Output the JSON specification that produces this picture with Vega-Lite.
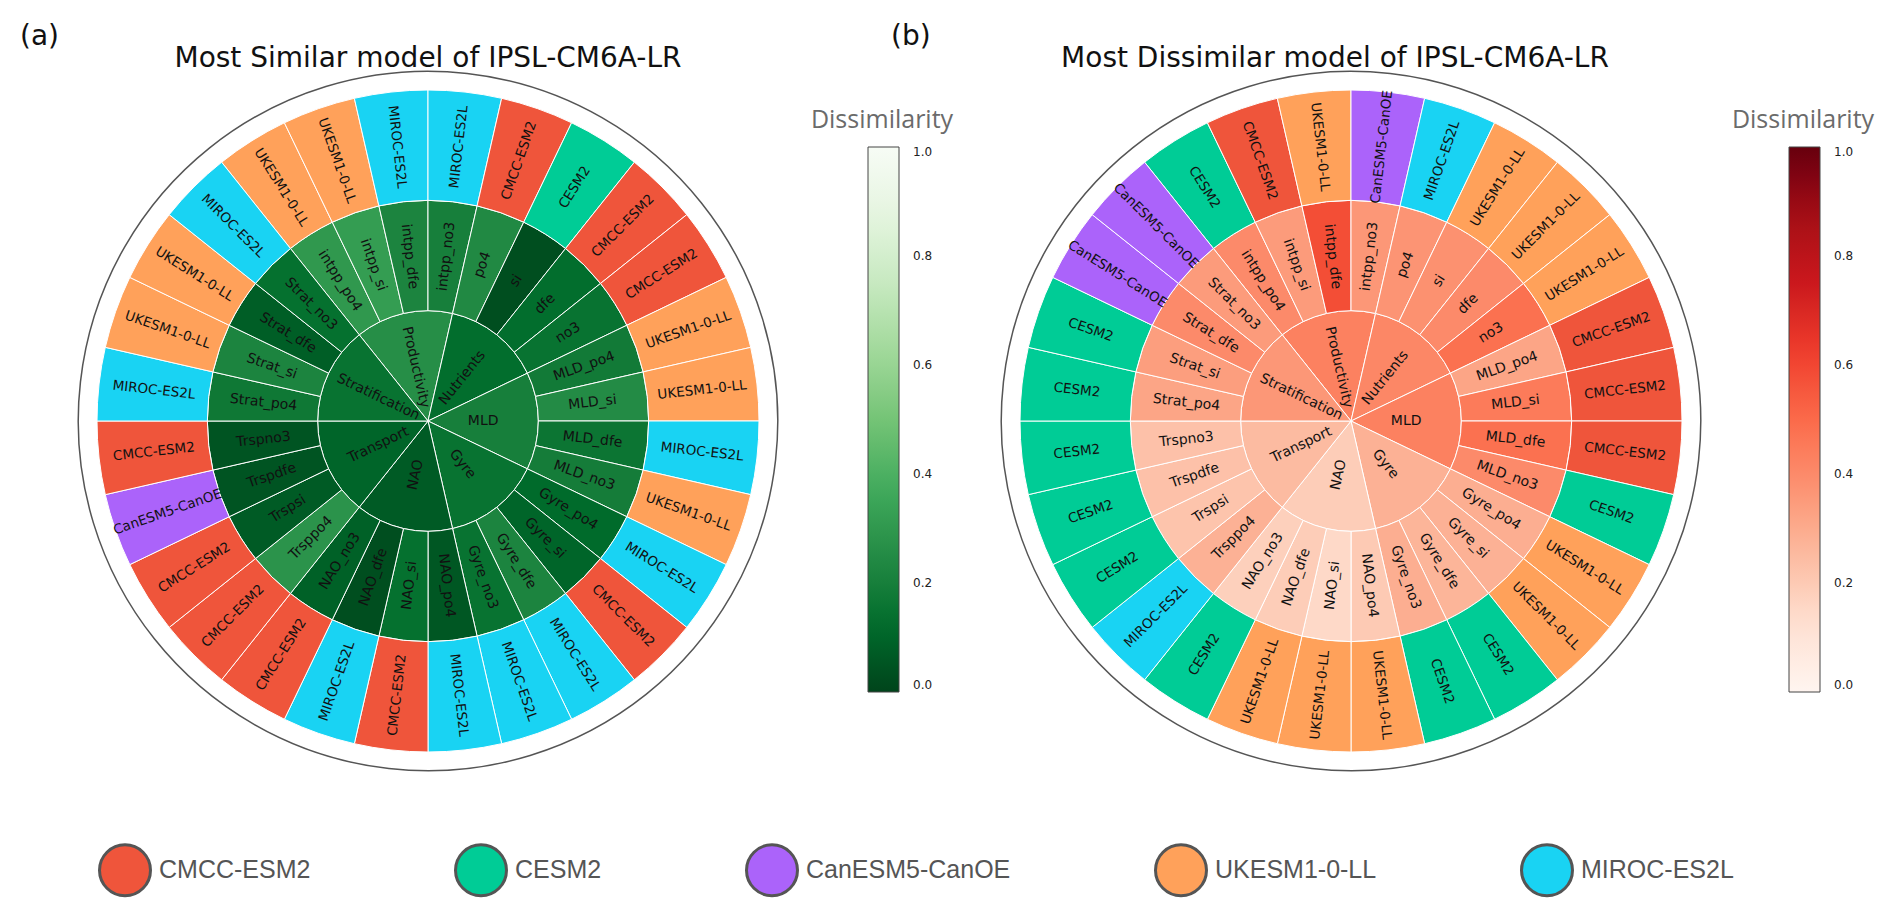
{
"$schema":"https://vega.github.io/schema/vega-lite/v6.json",
"background":"white",
"padding":{"left":20,"top":23,"right":5,"bottom":5},
"config":{"view":{"stroke":null},"font":"DejaVu Sans","title":{"font":"DejaVu Sans","fontWeight":"normal","color":"#111111"}},
"datasets":{
"sim":[
{"i":0,"var":"intpp_po4","cat":"Productivity","model":"UKESM1-0-LL","value":0.30},
{"i":1,"var":"intpp_si","cat":"Productivity","model":"UKESM1-0-LL","value":0.32},
{"i":2,"var":"intpp_dfe","cat":"Productivity","model":"MIROC-ES2L","value":0.22},
{"i":3,"var":"intpp_no3","cat":"Productivity","model":"MIROC-ES2L","value":0.20},
{"i":4,"var":"po4","cat":"Nutrients","model":"CMCC-ESM2","value":0.24},
{"i":5,"var":"si","cat":"Nutrients","model":"CESM2","value":0.03},
{"i":6,"var":"dfe","cat":"Nutrients","model":"CMCC-ESM2","value":0.13},
{"i":7,"var":"no3","cat":"Nutrients","model":"CMCC-ESM2","value":0.15},
{"i":8,"var":"MLD_po4","cat":"MLD","model":"UKESM1-0-LL","value":0.18},
{"i":9,"var":"MLD_si","cat":"MLD","model":"UKESM1-0-LL","value":0.25},
{"i":10,"var":"MLD_dfe","cat":"MLD","model":"MIROC-ES2L","value":0.16},
{"i":11,"var":"MLD_no3","cat":"MLD","model":"UKESM1-0-LL","value":0.19},
{"i":12,"var":"Gyre_po4","cat":"Gyre","model":"MIROC-ES2L","value":0.12},
{"i":13,"var":"Gyre_si","cat":"Gyre","model":"CMCC-ESM2","value":0.10},
{"i":14,"var":"Gyre_dfe","cat":"Gyre","model":"MIROC-ES2L","value":0.22},
{"i":15,"var":"Gyre_no3","cat":"Gyre","model":"MIROC-ES2L","value":0.15},
{"i":16,"var":"NAO_po4","cat":"NAO","model":"MIROC-ES2L","value":0.06},
{"i":17,"var":"NAO_si","cat":"NAO","model":"CMCC-ESM2","value":0.14},
{"i":18,"var":"NAO_dfe","cat":"NAO","model":"MIROC-ES2L","value":0.03},
{"i":19,"var":"NAO_no3","cat":"NAO","model":"CMCC-ESM2","value":0.09},
{"i":20,"var":"Trsppo4","cat":"Transport","model":"CMCC-ESM2","value":0.28},
{"i":21,"var":"Trspsi","cat":"Transport","model":"CMCC-ESM2","value":0.07},
{"i":22,"var":"Trspdfe","cat":"Transport","model":"CanESM5-CanOE","value":0.05},
{"i":23,"var":"Trspno3","cat":"Transport","model":"CMCC-ESM2","value":0.05},
{"i":24,"var":"Strat_po4","cat":"Stratification","model":"MIROC-ES2L","value":0.17},
{"i":25,"var":"Strat_si","cat":"Stratification","model":"UKESM1-0-LL","value":0.22},
{"i":26,"var":"Strat_dfe","cat":"Stratification","model":"UKESM1-0-LL","value":0.08},
{"i":27,"var":"Strat_no3","cat":"Stratification","model":"MIROC-ES2L","value":0.14}
],
"simCat":[
{"cat":"Productivity","first":0,"value":0.26},
{"cat":"Nutrients","first":4,"value":0.13},
{"cat":"MLD","first":8,"value":0.20},
{"cat":"Gyre","first":12,"value":0.15},
{"cat":"NAO","first":16,"value":0.07},
{"cat":"Transport","first":20,"value":0.10},
{"cat":"Stratification","first":24,"value":0.15}
],
"dis":[
{"i":0,"var":"intpp_po4","cat":"Productivity","model":"CESM2","value":0.40},
{"i":1,"var":"intpp_si","cat":"Productivity","model":"CMCC-ESM2","value":0.35},
{"i":2,"var":"intpp_dfe","cat":"Productivity","model":"UKESM1-0-LL","value":0.58},
{"i":3,"var":"intpp_no3","cat":"Productivity","model":"CanESM5-CanOE","value":0.36},
{"i":4,"var":"po4","cat":"Nutrients","model":"MIROC-ES2L","value":0.37},
{"i":5,"var":"si","cat":"Nutrients","model":"UKESM1-0-LL","value":0.38},
{"i":6,"var":"dfe","cat":"Nutrients","model":"UKESM1-0-LL","value":0.40},
{"i":7,"var":"no3","cat":"Nutrients","model":"UKESM1-0-LL","value":0.48},
{"i":8,"var":"MLD_po4","cat":"MLD","model":"CMCC-ESM2","value":0.32},
{"i":9,"var":"MLD_si","cat":"MLD","model":"CMCC-ESM2","value":0.45},
{"i":10,"var":"MLD_dfe","cat":"MLD","model":"CMCC-ESM2","value":0.48},
{"i":11,"var":"MLD_no3","cat":"MLD","model":"CESM2","value":0.40},
{"i":12,"var":"Gyre_po4","cat":"Gyre","model":"UKESM1-0-LL","value":0.29},
{"i":13,"var":"Gyre_si","cat":"Gyre","model":"UKESM1-0-LL","value":0.28},
{"i":14,"var":"Gyre_dfe","cat":"Gyre","model":"CESM2","value":0.27},
{"i":15,"var":"Gyre_no3","cat":"Gyre","model":"CESM2","value":0.29},
{"i":16,"var":"NAO_po4","cat":"NAO","model":"UKESM1-0-LL","value":0.20},
{"i":17,"var":"NAO_si","cat":"NAO","model":"UKESM1-0-LL","value":0.15},
{"i":18,"var":"NAO_dfe","cat":"NAO","model":"UKESM1-0-LL","value":0.19},
{"i":19,"var":"NAO_no3","cat":"NAO","model":"CESM2","value":0.18},
{"i":20,"var":"Trsppo4","cat":"Transport","model":"MIROC-ES2L","value":0.28},
{"i":21,"var":"Trspsi","cat":"Transport","model":"CESM2","value":0.22},
{"i":22,"var":"Trspdfe","cat":"Transport","model":"CESM2","value":0.23},
{"i":23,"var":"Trspno3","cat":"Transport","model":"CESM2","value":0.23},
{"i":24,"var":"Strat_po4","cat":"Stratification","model":"CESM2","value":0.32},
{"i":25,"var":"Strat_si","cat":"Stratification","model":"CESM2","value":0.34},
{"i":26,"var":"Strat_dfe","cat":"Stratification","model":"CanESM5-CanOE","value":0.40},
{"i":27,"var":"Strat_no3","cat":"Stratification","model":"CanESM5-CanOE","value":0.35}
],
"disCat":[
{"cat":"Productivity","first":0,"value":0.43},
{"cat":"Nutrients","first":4,"value":0.41},
{"cat":"MLD","first":8,"value":0.43},
{"cat":"Gyre","first":12,"value":0.28},
{"cat":"NAO","first":16,"value":0.19},
{"cat":"Transport","first":20,"value":0.25},
{"cat":"Stratification","first":24,"value":0.36}
]
},
"title":{"text":"(a)","anchor":"start","frame":"group","dx":-58,"dy":28,"offset":0,"fontSize":28},
"vconcat":[
{"title":{"text":"(b)","anchor":"start","frame":"group","dx":813,"fontSize":28,"offset":-6},
 "hconcat":[
 {"width":700,"height":700,
  "title":{"text":"Most Similar model of IPSL-CM6A-LR","anchor":"middle","frame":"group","fontSize":28,"offset":-5},
  "layer":[
   {"data":{"name":"simCat"},"transform":[{"calculate":"datum.first + 4","as":"last"}],
    "mark":{"type":"arc","stroke":"#ffffff","strokeWidth":1},
    "encoding":{
     "theta":{"field":"first","type":"quantitative","scale":{"domain":[0,28],"range":[-0.673198,5.609987]}},
     "theta2":{"field":"last"},
     "radius":{"datum":0,"type":"quantitative","scale":{"type":"linear","domain":[0,3],"range":[0,331],"zero":true}},
     "radius2":{"datum":1},
     "fill":{"field":"value","type":"quantitative","title":"Dissimilarity","scale":{"domain":[0,0.125,0.25,0.375,0.5,0.625,0.75,0.875,1],"range":["#00441b","#006d2c","#238b45","#41ab5d","#74c476","#a1d99b","#c7e9c0","#e5f5e0","#f7fcf5"]},
      "legend":{"orient":"none","legendX":733,"legendY":37,"direction":"vertical","titleAnchor":"middle","gradientLength":545,"gradientThickness":31,"values":[0,0.2,0.4,0.6,0.8,1],"format":".1f","labelBaseline":"middle","labelFontSize":12,"labelFont":"DejaVu Sans","labelColor":"#222222","labelOffset":14,"titleFontSize":25,"titleFont":"Open Sans","titleFontWeight":"normal","titleColor":"#6b6b6b","titlePadding":14,"gradientStrokeColor":"#444444","gradientStrokeWidth":1,
       "encode":{"title":{"update":{"dx":{"value":-18}}}}}}
    }},
   {"data":{"name":"sim"},"transform":[{"calculate":"datum.i + 1","as":"i1"}],
    "mark":{"type":"arc","stroke":"#ffffff","strokeWidth":1},
    "encoding":{
     "theta":{"field":"i","type":"quantitative"},
     "theta2":{"field":"i1"},
     "radius":{"datum":1,"type":"quantitative"},
     "radius2":{"datum":2},
     "fill":{"field":"value","type":"quantitative"}
    }},
   {"data":{"name":"sim"},"transform":[{"calculate":"datum.i + 1","as":"i1"}],
    "mark":{"type":"arc","stroke":"#ffffff","strokeWidth":1},
    "encoding":{
     "theta":{"field":"i","type":"quantitative"},
     "theta2":{"field":"i1"},
     "radius":{"datum":2,"type":"quantitative"},
     "radius2":{"datum":3},
     "color":{"field":"model","type":"nominal","scale":{"domain":["CMCC-ESM2","CESM2","CanESM5-CanOE","UKESM1-0-LL","MIROC-ES2L"],"range":["#EF553B","#00CC96","#AB63FA","#FFA15A","#19D3F3"]},
      "legend":{"orient":"none","legendX":20,"legendY":772,"direction":"horizontal","title":null,"padding":0,"symbolType":"circle","symbolSize":2600,"symbolStrokeColor":"#555555","symbolStrokeWidth":3,"symbolOpacity":1,"labelFont":"Liberation Sans","labelFontSize":25,"labelColor":"#555555","labelOffset":7,"columnPadding":138,"labelLimit":400,
       "encode":{"symbols":{"update":{"stroke":{"value":"#555555"},"strokeWidth":{"value":3},"opacity":{"value":1}}}}}}
    }},
   {"data":{"values":[{}]},
    "mark":{"type":"arc","filled":false,"stroke":"#555555","strokeWidth":1.5},
    "encoding":{
     "theta":{"datum":0,"type":"quantitative"},
     "theta2":{"datum":28},
     "radius":{"datum":3.17,"type":"quantitative"},
     "radius2":{"datum":3.17}
    }},
   {"data":{"name":"simCat"},"transform":[{"calculate":"datum.first + 2","as":"mid"},{"calculate":"((datum.mid - 3) * 360 / 28 + 360) % 360","as":"deg"},{"calculate":"datum.deg < 180 ? datum.deg - 90 : datum.deg - 270","as":"ang"}],
    "mark":{"type":"text","fontSize":14,"color":"#111111","align":"center","baseline":"middle"},
    "encoding":{
     "theta":{"field":"mid","type":"quantitative"},
     "radius":{"datum":0.5,"type":"quantitative"},
     "text":{"field":"cat"},
     "angle":{"field":"ang","type":"quantitative","scale":null}
    }},
   {"data":{"name":"sim"},"transform":[{"calculate":"datum.i + 0.5","as":"mid"},{"calculate":"((datum.mid - 3) * 360 / 28 + 360) % 360","as":"deg"},{"calculate":"datum.deg < 180 ? datum.deg - 90 : datum.deg - 270","as":"ang"}],
    "mark":{"type":"text","fontSize":14,"color":"#111111","align":"center","baseline":"middle"},
    "encoding":{
     "theta":{"field":"mid","type":"quantitative"},
     "radius":{"datum":1.5,"type":"quantitative"},
     "text":{"field":"var"},
     "angle":{"field":"ang","type":"quantitative","scale":null}
    }},
   {"data":{"name":"sim"},"transform":[{"calculate":"datum.i + 0.5","as":"mid"},{"calculate":"((datum.mid - 3) * 360 / 28 + 360) % 360","as":"deg"},{"calculate":"datum.deg < 180 ? datum.deg - 90 : datum.deg - 270","as":"ang"}],
    "mark":{"type":"text","fontSize":13.5,"color":"#111111","align":"center","baseline":"middle"},
    "encoding":{
     "theta":{"field":"mid","type":"quantitative"},
     "radius":{"datum":2.5,"type":"quantitative"},
     "text":{"field":"model"},
     "angle":{"field":"ang","type":"quantitative","scale":null}
    }}
  ]},
 {"width":700,"height":700,
  "title":{"text":"Most Dissimilar model of IPSL-CM6A-LR","anchor":"middle","frame":"group","fontSize":28,"offset":-5,"dx":-16},
  "layer":[
   {"data":{"name":"disCat"},"transform":[{"calculate":"datum.first + 4","as":"last"}],
    "mark":{"type":"arc","stroke":"#ffffff","strokeWidth":1},
    "encoding":{
     "theta":{"field":"first","type":"quantitative","scale":{"domain":[0,28],"range":[-0.673198,5.609987]}},
     "theta2":{"field":"last"},
     "radius":{"datum":0,"type":"quantitative","scale":{"type":"linear","domain":[0,3],"range":[0,331],"zero":true}},
     "radius2":{"datum":1},
     "fill":{"field":"value","type":"quantitative","title":"Dissimilarity","scale":{"domain":[0,0.125,0.25,0.375,0.5,0.625,0.75,0.875,1],"range":["#fff5f0","#fee0d2","#fcbba1","#fc9272","#fb6a4a","#ef3b2c","#cb181d","#a50f15","#67000d"]},
      "legend":{"orient":"none","legendX":731,"legendY":37,"direction":"vertical","titleAnchor":"middle","gradientLength":545,"gradientThickness":31,"values":[0,0.2,0.4,0.6,0.8,1],"format":".1f","labelBaseline":"middle","labelFontSize":12,"labelFont":"DejaVu Sans","labelColor":"#222222","labelOffset":14,"titleFontSize":25,"titleFont":"Open Sans","titleFontWeight":"normal","titleColor":"#6b6b6b","titlePadding":14,"gradientStrokeColor":"#444444","gradientStrokeWidth":1,
       "encode":{"title":{"update":{"dx":{"value":-18}}}}}}
    }},
   {"data":{"name":"dis"},"transform":[{"calculate":"datum.i + 1","as":"i1"}],
    "mark":{"type":"arc","stroke":"#ffffff","strokeWidth":1},
    "encoding":{
     "theta":{"field":"i","type":"quantitative"},
     "theta2":{"field":"i1"},
     "radius":{"datum":1,"type":"quantitative"},
     "radius2":{"datum":2},
     "fill":{"field":"value","type":"quantitative"}
    }},
   {"data":{"name":"dis"},"transform":[{"calculate":"datum.i + 1","as":"i1"}],
    "mark":{"type":"arc","stroke":"#ffffff","strokeWidth":1},
    "encoding":{
     "theta":{"field":"i","type":"quantitative"},
     "theta2":{"field":"i1"},
     "radius":{"datum":2,"type":"quantitative"},
     "radius2":{"datum":3},
     "color":{"field":"model","type":"nominal"}
    }},
   {"data":{"values":[{}]},
    "mark":{"type":"arc","filled":false,"stroke":"#555555","strokeWidth":1.5},
    "encoding":{
     "theta":{"datum":0,"type":"quantitative"},
     "theta2":{"datum":28},
     "radius":{"datum":3.17,"type":"quantitative"},
     "radius2":{"datum":3.17}
    }},
   {"data":{"name":"disCat"},"transform":[{"calculate":"datum.first + 2","as":"mid"},{"calculate":"((datum.mid - 3) * 360 / 28 + 360) % 360","as":"deg"},{"calculate":"datum.deg < 180 ? datum.deg - 90 : datum.deg - 270","as":"ang"}],
    "mark":{"type":"text","fontSize":14,"color":"#111111","align":"center","baseline":"middle"},
    "encoding":{
     "theta":{"field":"mid","type":"quantitative"},
     "radius":{"datum":0.5,"type":"quantitative"},
     "text":{"field":"cat"},
     "angle":{"field":"ang","type":"quantitative","scale":null}
    }},
   {"data":{"name":"dis"},"transform":[{"calculate":"datum.i + 0.5","as":"mid"},{"calculate":"((datum.mid - 3) * 360 / 28 + 360) % 360","as":"deg"},{"calculate":"datum.deg < 180 ? datum.deg - 90 : datum.deg - 270","as":"ang"}],
    "mark":{"type":"text","fontSize":14,"color":"#111111","align":"center","baseline":"middle"},
    "encoding":{
     "theta":{"field":"mid","type":"quantitative"},
     "radius":{"datum":1.5,"type":"quantitative"},
     "text":{"field":"var"},
     "angle":{"field":"ang","type":"quantitative","scale":null}
    }},
   {"data":{"name":"dis"},"transform":[{"calculate":"datum.i + 0.5","as":"mid"},{"calculate":"((datum.mid - 3) * 360 / 28 + 360) % 360","as":"deg"},{"calculate":"datum.deg < 180 ? datum.deg - 90 : datum.deg - 270","as":"ang"}],
    "mark":{"type":"text","fontSize":13.5,"color":"#111111","align":"center","baseline":"middle"},
    "encoding":{
     "theta":{"field":"mid","type":"quantitative"},
     "radius":{"datum":2.5,"type":"quantitative"},
     "text":{"field":"model"},
     "angle":{"field":"ang","type":"quantitative","scale":null}
    }}
  ]}
 ],
 "spacing":223,
 "bounds":"flush",
 "resolve":{"scale":{"fill":"independent","color":"shared","theta":"independent","radius":"independent"},"legend":{"fill":"independent","color":"shared"}}
}
]
}
